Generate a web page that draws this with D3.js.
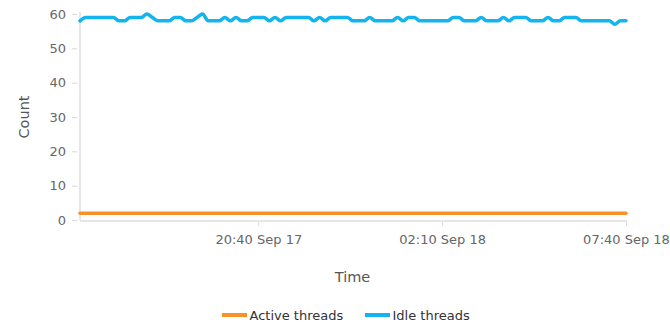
<!DOCTYPE html>
<html>
<head>
<meta charset="utf-8">
<script src="https://cdn.jsdelivr.net/npm/d3@7"></script>
<style>
  html, body { margin: 0; padding: 0; background: #fff; }
  svg { display: block; font-family: "DejaVu Sans", Verdana, sans-serif; }
</style>
</head>
<body>
<svg id="chart" width="670" height="322"></svg>
<script>
// Thread pool samples, every 10 minutes from 15:20 Sep 17 to 07:40 Sep 18
const startTime = "2017-09-17T15:20:00";
const sampleMinutes = 10;
const idleThreads = [
  58, 59, 59, 59, 59, 59, 59, 58, 58, 59,
  59, 59, 60, 59, 58, 58, 58, 59, 59, 58,
  58, 59, 60, 58, 58, 58, 59, 58, 59, 58,
  58, 59, 59, 59, 58, 59, 58, 59, 59, 59,
  59, 59, 58, 59, 58, 59, 59, 59, 59, 58,
  58, 58, 59, 58, 58, 58, 58, 59, 58, 59,
  59, 58, 58, 58, 58, 58, 58, 59, 59, 58,
  58, 58, 59, 58, 58, 58, 59, 58, 59, 59,
  59, 58, 58, 58, 59, 58, 58, 59, 59, 59,
  58, 58, 58, 58, 58, 58, 57, 58, 58
];
const activeThreads = idleThreads.map(() => 2);
const seriesNames = ["Active threads", "Idle threads"];
const seriesColors = ["#f7922a", "#14b4ee"];
const yTicks = [0, 10, 20, 30, 40, 50, 60];
const xTickTimes = ["2017-09-17T20:40:00", "2017-09-18T02:10:00", "2017-09-18T07:40:00"];
const xTickLabels = ["20:40 Sep 17", "02:10 Sep 18", "07:40 Sep 18"];

const t0 = new Date(startTime);
const times = idleThreads.map((_, i) => new Date(t0.getTime() + i * sampleMinutes * 60000));

const svg = d3.select("#chart");
const plot = { left: 80, right: 626, top: 14, bottom: 220 };
const fontFamily = "'DejaVu Sans', Verdana, sans-serif";

const x = d3.scaleTime().domain([times[0], times[times.length - 1]]).range([plot.left, plot.right]);
const y = d3.scaleLinear().domain([0, 60]).range([plot.bottom, plot.top]);

// y axis
const yAxis = d3.axisLeft(y).tickValues(yTicks).tickSize(5).tickPadding(6);
const gy = svg.append("g").attr("transform", `translate(${plot.left - 3},0)`).call(yAxis);
gy.select(".domain").remove();
gy.selectAll(".tick line").attr("stroke", "#d8d8d8");
gy.selectAll(".tick text").attr("fill", "#666").style("font-size", "13px")
  .style("font-family", fontFamily);
svg.append("line").attr("x1", plot.left).attr("x2", plot.left).attr("y1", plot.top - 2).attr("y2", plot.bottom)
  .attr("stroke", "#e6e6e6").attr("stroke-width", 2);

// x axis
const xAxis = d3.axisBottom(x).tickValues(xTickTimes.map(d => new Date(d)))
  .tickFormat((d, i) => xTickLabels[i]).tickSize(6).tickPadding(9);
const gx = svg.append("g").attr("transform", `translate(0,${plot.bottom})`).call(xAxis);
gx.select(".domain").remove();
gx.selectAll(".tick line").attr("stroke", "#d8d8d8");
gx.selectAll(".tick text").attr("fill", "#666").style("font-size", "13px")
  .style("font-family", fontFamily);
svg.append("line").attr("x1", plot.left).attr("x2", plot.right + 1).attr("y1", plot.bottom + 1).attr("y2", plot.bottom + 1)
  .attr("stroke", "#e6e6e6").attr("stroke-width", 2);

// axis titles
svg.append("text").attr("x", 352.5).attr("y", 282).attr("text-anchor", "middle")
  .attr("fill", "#555").style("font-size", "14.5px").text("Time");
svg.append("text").attr("transform", `translate(29,${(plot.top + plot.bottom) / 2}) rotate(-90)`)
  .attr("text-anchor", "middle").attr("fill", "#555").style("font-size", "14.5px").text("Count");

// series lines
const line = d3.line().x((d, i) => x(times[i])).y(d => y(d)).curve(d3.curveMonotoneX);
[activeThreads, idleThreads].forEach((vals, k) => {
  svg.append("path").datum(vals).attr("d", line).attr("fill", "none")
    .attr("stroke", seriesColors[k]).attr("stroke-width", 3.5)
    .attr("stroke-linejoin", "round").attr("stroke-linecap", "round");
});

// legend
const legendX = [222, 365];
seriesNames.forEach((name, k) => {
  const g = svg.append("g").attr("transform", `translate(${legendX[k]},315)`);
  g.append("line").attr("x1", 0).attr("x2", 25).attr("y1", 0).attr("y2", 0)
    .attr("stroke", seriesColors[k]).attr("stroke-width", 4);
  g.append("text").attr("x", 27.5).attr("y", 4.5).attr("fill", "#333")
    .style("font-size", "13px").text(name);
});
</script>
</body>
</html>
